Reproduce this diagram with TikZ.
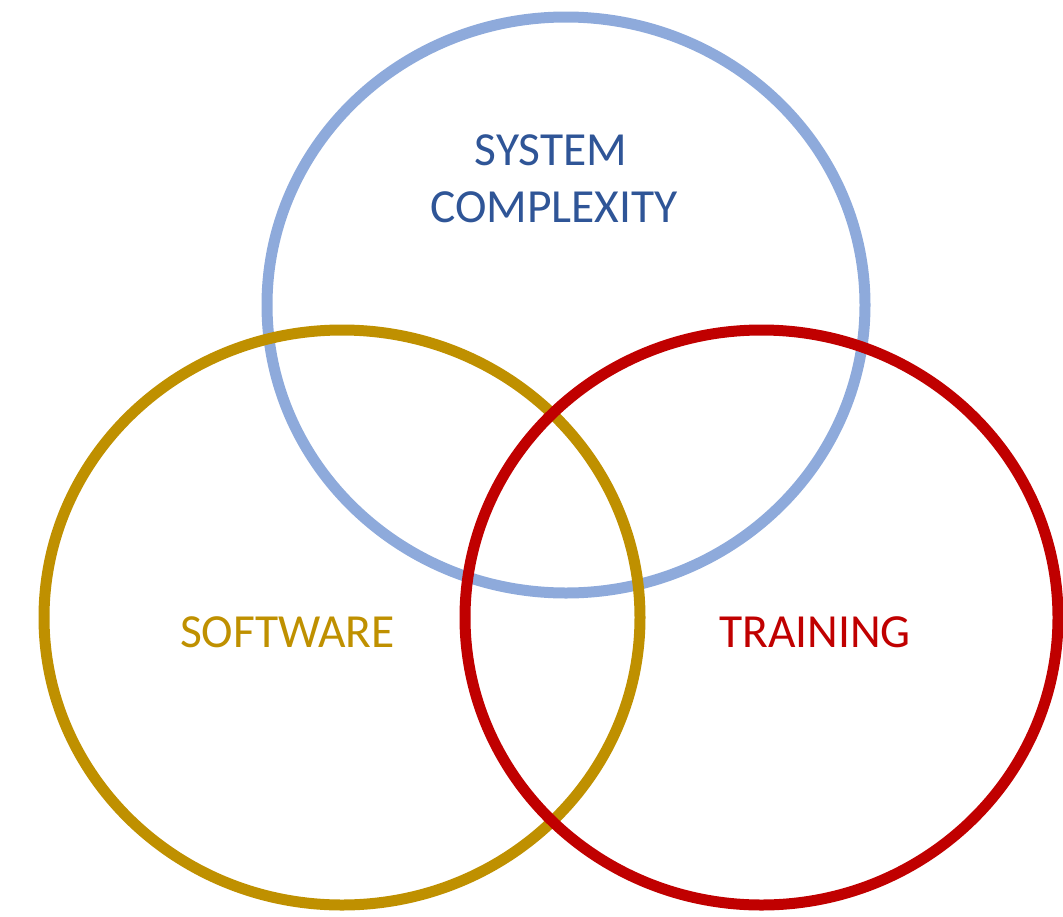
\documentclass[tikz,border=0pt]{standalone}
\usepackage{fontspec}
\setmainfont{Carlito}
\definecolor{cblue}{HTML}{8EAADB}
\definecolor{cbluetext}{HTML}{2F5597}
\definecolor{cgold}{HTML}{BF9000}
\definecolor{cred}{HTML}{C00000}
\begin{document}
\begin{tikzpicture}[x=1pt,y=-1pt,
  ring/.style={line width=11pt},
  lbl/.style={font=\fontsize{47.5}{57}\selectfont, align=center, inner sep=0pt, anchor=base}]
\useasboundingbox (0,0) rectangle (1063,916);
\draw[ring, cblue] (566,305) ellipse [x radius=299, y radius=288];
\draw[ring, cgold] (342,617.5) ellipse [x radius=298, y radius=287.5];
\draw[ring, cred] (761.5,617.5) ellipse [x radius=296.5, y radius=287.5];
\node[lbl, text=cbluetext] (sys) at (551,165) {SYSTEM};
\node[lbl, text=cbluetext] (cmp) at (554,222) {COMPLEXITY};
\node[lbl, text=cgold] (sw) at (287.5,647) {SOFTWARE};
\node[lbl, text=cred] (tr) at (815,647) {TRAINING};
\end{tikzpicture}
\end{document}
